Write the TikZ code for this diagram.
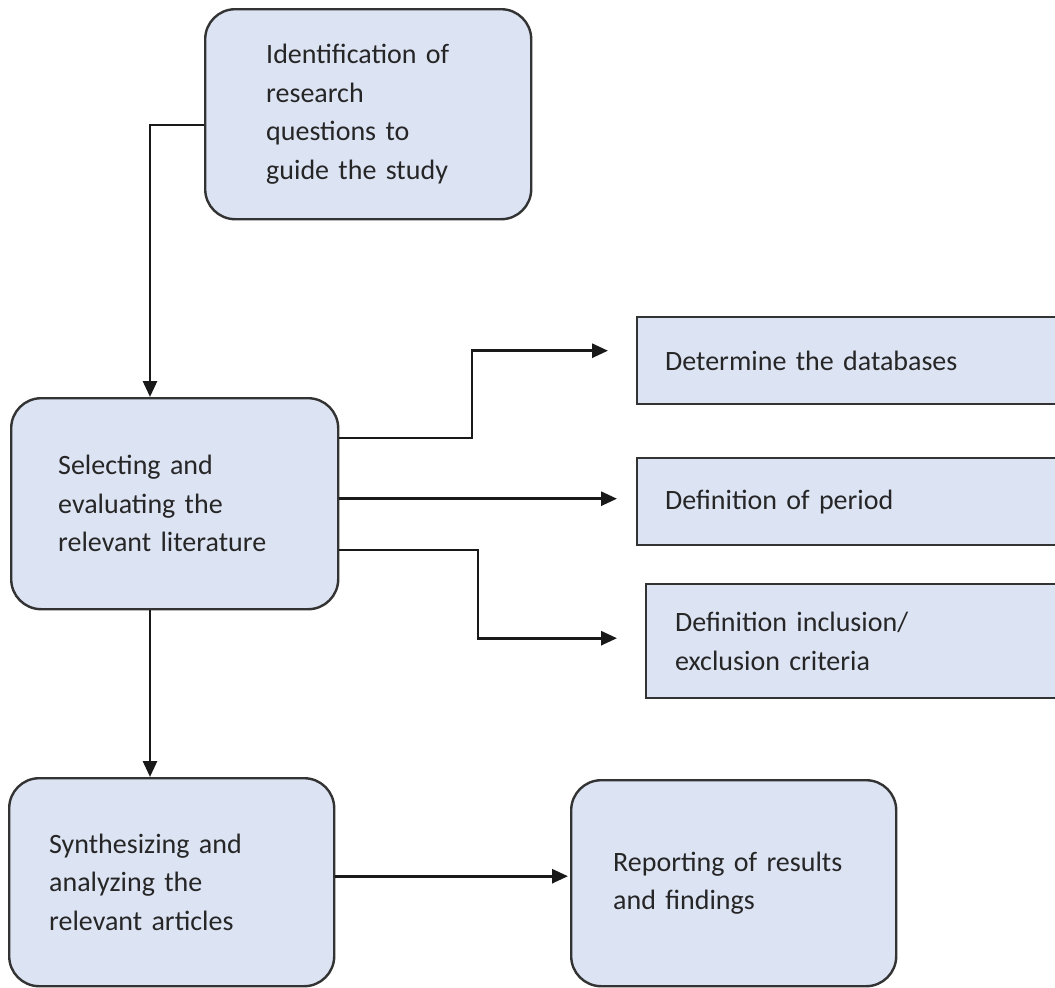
\documentclass[tikz,border=0pt]{standalone}
\usepackage{fontspec}
\setmainfont{Carlito}
\usetikzlibrary{arrows.meta,calc}
\definecolor{boxfill}{HTML}{DCE3F3}
\definecolor{boxdraw}{HTML}{333333}
\definecolor{txt}{HTML}{262626}
\tikzset{
  box/.style={draw=boxdraw, fill=boxfill, line width=2.4pt, anchor=north west,
    align=left, text=txt, font=\fontsize{28}{38.5}\selectfont, inner ysep=0pt},
  rbox/.style={box, rounded corners=30pt},
  arr/.style={line width=2.8pt, draw=black!90, -{Triangle[length=16pt,width=14pt]}},
}
\begin{document}
\begin{tikzpicture}[x=1pt,y=-1pt]
\useasboundingbox (0,0) rectangle (1055,988);
\fill[white] (0,0) rectangle (1055,988);
\begin{scope}
\clip (0,0) rectangle (1055,988);
\node[rbox, minimum width=326pt, minimum height=210pt, text width=204pt, inner xsep=61pt] (A) at (204,8)
  {Identification of\\research\\questions to\\guide the study};
\node[rbox, minimum width=327pt, minimum height=211pt, text width=233pt, inner xsep=47pt] (B) at (10,397)
  {Selecting and\\evaluating the\\relevant literature};
\node[rbox, minimum width=325pt, minimum height=208pt, text width=245pt, inner xsep=40pt] (C) at (8,777)
  {Synthesizing and\\analyzing the\\relevant articles};
\node[rbox, minimum width=325pt, minimum height=206pt, text width=241pt, inner xsep=42pt] (D) at (570,779)
  {Reporting of results\\and findings};
\node[box, minimum width=440pt, minimum height=87pt, text width=384pt, inner xsep=28pt] (R1) at (636,316)
  {Determine the databases};
\node[box, minimum width=440pt, minimum height=87pt, text width=384pt, inner xsep=28pt] (R2) at (636,457)
  {Definition of period};
\node[box, minimum width=431pt, minimum height=114pt, text width=373pt, inner xsep=29pt] (R3) at (645,583)
  {Definition inclusion/\\exclusion criteria};
\end{scope}
% helper coordinates
\coordinate (k1) at (472,0);
\coordinate (k3) at (478,0);
\coordinate (a1) at ([yshift=-117pt]A.north west);
\coordinate (b1) at ([xshift=140pt]B.north west);
\coordinate (b2) at ([xshift=140pt]B.south west);
\coordinate (bs1) at ([yshift=-41pt]B.north east);
\coordinate (bs3) at ([yshift=-153pt]B.north east);
\coordinate (r1t) at ([yshift=10pt]R1.west);
\coordinate (r2t) at ([yshift=3pt]R2.west);
\coordinate (r3t) at ([yshift=3pt]R3.west);
\coordinate (dt) at ([yshift=7pt]D.west);
% connectors
\draw[arr] (a1) -| (b1);
\draw[arr, shorten >=28pt] (bs1) -- (bs1 -| k1) |- (r1t);
\draw[arr, shorten >=19pt] (B.east |- r2t) -- (r2t);
\draw[arr, shorten >=28pt] (bs3) -- (bs3 -| k3) |- (r3t);
\draw[arr] (b2) -- (b2 |- C.north);
\draw[arr, shorten >=2pt] (C.east |- dt) -- (dt);
\end{tikzpicture}
\end{document}
